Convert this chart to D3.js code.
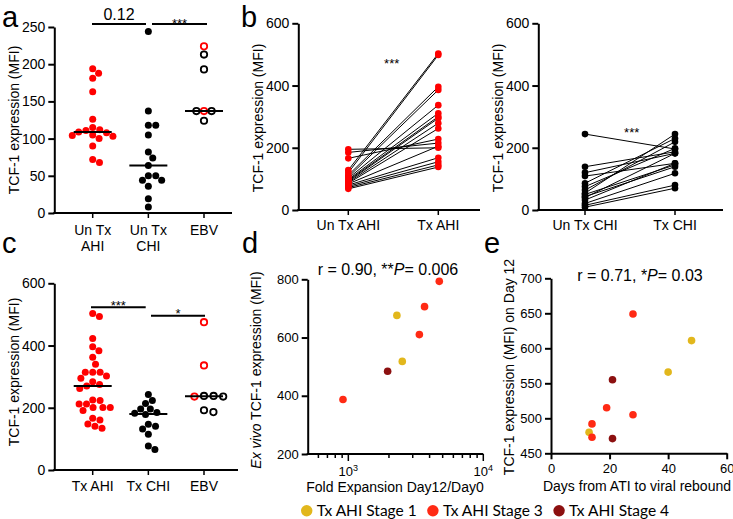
<!DOCTYPE html>
<html>
<head>
<meta charset="utf-8">
<script src="https://cdn.jsdelivr.net/npm/d3@7"></script>
<style>
body { margin: 0; background: #fff; }
text { font-family: "Liberation Sans", Arial, sans-serif; fill: #000; }
</style>
</head>
<body>
<svg id="fig" width="733" height="519"></svg>
<script>
// ---- data ----
// panel a
var catsA = ["Un Tx AHI", "Un Tx CHI", "EBV"];
var labelsA = [["Un Tx", "AHI"], ["Un Tx", "CHI"], ["EBV"]];
var unTxAHI = [194, 188, 181, 163, 126, 115, 112, 111, 109, 108, 105, 104, 103, 100, 90, 72, 68];
var unTxCHI = [244, 137, 118, 118, 105, 82, 74, 64, 50, 50, 44, 44, 36, 19, 8];
var ebvA_red = [224, 137];
var ebvA_black = [213, 193, 137, 137, 124];

// panel b (paired)
var catsB1 = ["Un Tx AHI", "Tx AHI"];
var ahiUnTx = [195, 185, 166, 128, 120, 112, 106, 102, 98, 95, 92, 89, 86, 84, 80, 76, 72, 68];
var ahiTx   = [200, 215, 228, 503, 498, 396, 386, 337, 311, 300, 295, 279, 262, 205, 168, 155, 145, 138];
var catsB2 = ["Un Tx CHI", "Tx CHI"];
var chiUnTx = [244, 139, 120, 109, 86, 75, 64, 54, 50, 43, 40, 32, 21, 15, 9];
var chiTx   = [196, 187, 182, 150, 230, 198, 219, 244, 145, 139, 182, 150, 118, 80, 70];

// panel c
var catsC = ["Tx AHI", "Tx CHI", "EBV"];
var txAHI = [503, 493, 423, 396, 383, 362, 340, 314, 314, 314, 302, 295, 284, 275, 270, 262, 225, 223, 212, 212, 201, 201, 201, 191, 166, 161, 148, 141, 134];
var txCHI = [243, 223, 214, 196, 196, 185, 182, 178, 147, 141, 132, 115, 77, 66];
var ebvC_red = [475, 336, 236];
var ebvC_black = [238, 236, 238, 186, 192];

// panel d
var foldExp   = [4720, 3670, 2290, 3360, 2510, 1955, 913];
var exVivoTCF = [793, 706, 676, 610, 518, 484, 387];
var stageD    = [3, 3, 1, 3, 1, 4, 3];

// panel e
var daysRebound = [28, 48, 40, 21, 19, 28, 14, 13, 14, 21];
var tcfDay12    = [649, 611, 566, 555, 515, 505, 492, 480, 473, 471];
var stageE      = [3, 1, 1, 4, 3, 3, 3, 1, 3, 4];

var stageNames = ["Tx AHI Stage 1", "Tx AHI Stage 3", "Tx AHI Stage 4"];
var stageKeys = [1, 3, 4];
var stageColor = d3.scaleOrdinal().domain(stageKeys).range(["#e2b71c", "#ff2a14", "#8c1010"]);

var svg = d3.select("#fig");
var RED = "#ff0000";

function panelLetter(t, x, y) {
    svg.append("text").attr("x", x).attr("y", y)
        .style("font-size", "29px").text(t);
}

function yAxis(scale, x, ticks, fs) {
    var g = svg.append("g")
        .attr("transform", "translate(" + x + ",0)")
        .call(d3.axisLeft(scale).tickValues(ticks).tickSize(6).tickSizeOuter(0).tickPadding(3));
    g.selectAll("path,line").attr("stroke", "#000").attr("stroke-width", 2);
    g.selectAll("text").style("font-family", "Liberation Sans, Arial, sans-serif")
        .style("font-size", fs + "px").attr("fill", "#000");
    return g;
}

function yTitle(t, x, y, fs) {
    return svg.append("text")
        .attr("transform", "translate(" + x + "," + y + ") rotate(-90)")
        .style("text-anchor", "middle").style("font-size", fs + "px").text(t);
}

// category axis: line from x0 to x1, small ticks at the categories
function catAxis(xScale, x0, x1, y, lines, lineY) {
    svg.append("line").attr("x1", x0 - 1).attr("x2", x1).attr("y1", y).attr("y2", y)
        .attr("stroke", "#000").attr("stroke-width", 2);
    xScale.domain().forEach(function (c, i) {
        var cx = xScale(c);
        svg.append("line").attr("x1", cx).attr("x2", cx).attr("y1", y).attr("y2", y + 5)
            .attr("stroke", "#000").attr("stroke-width", 1.5);
        var t = svg.append("text").attr("x", cx).attr("y", lineY)
            .style("text-anchor", "middle").style("font-size", "14px");
        lines[i].forEach(function (s, k) {
            t.append("tspan").attr("x", cx).attr("dy", k === 0 ? 0 : 16).text(s);
        });
    });
}

// simple beeswarm: each point goes as close to the centre as it can
function swarm(items, y, cx, r) {
    var d = 2 * r + 0.4;
    var pts = items.map(function (it, i) { return { v: it.v, open: it.open, color: it.color, y: y(it.v), i: i }; });
    pts.sort(function (a, b) { return a.y - b.y || a.i - b.i; });
    var placed = [];
    pts.forEach(function (p) {
        var near = placed.filter(function (q) { return Math.abs(q.y - p.y) < d; });
        var cands = [0];
        near.forEach(function (q) {
            var dx = Math.sqrt(d * d - (q.y - p.y) * (q.y - p.y));
            cands.push(q.dx + dx, q.dx - dx);
        });
        cands.sort(function (a, b) { return Math.abs(a) - Math.abs(b); });
        p.dx = cands.find(function (c) {
            return near.every(function (q) { return (q.dx - c) * (q.dx - c) + (q.y - p.y) * (q.y - p.y) >= d * d - 0.01; });
        });
        placed.push(p);
    });
    pts.forEach(function (p) { p.x = cx + p.dx; });
    return pts;
}

function drawDots(pts) {
    pts.forEach(function (p) {
        if (p.open) {
            svg.append("circle").attr("cx", p.x).attr("cy", p.y).attr("r", 3.2)
                .attr("fill", "#fff").attr("stroke", p.color).attr("stroke-width", 1.8);
        } else {
            svg.append("circle").attr("cx", p.x).attr("cy", p.y).attr("r", 3.5)
                .attr("fill", p.color);
        }
    });
}

function medianLine(vals, cx, y) {
    var m = d3.median(vals);
    svg.append("line").attr("x1", cx - 19).attr("x2", cx + 19)
        .attr("y1", y(m)).attr("y2", y(m))
        .attr("stroke", "#000").attr("stroke-width", 2);
}

function sigBar(x1, x2, y, label, ty, fs) {
    svg.append("line").attr("x1", x1).attr("x2", x2).attr("y1", y).attr("y2", y)
        .attr("stroke", "#000").attr("stroke-width", 2);
    svg.append("text").attr("x", (x1 + x2) / 2).attr("y", ty)
        .style("text-anchor", "middle").style("font-size", fs + "px").text(label);
}

function toItems(vals, color, open) {
    return vals.map(function (v) { return { v: v, color: color, open: open }; });
}

// ================= panel a =================
panelLetter("a", 2, 26.5);
var yA = d3.scaleLinear().domain([0, 250]).range([213, 27]);
var xA = d3.scalePoint().domain(catsA).range([92.7, 204]);
yAxis(yA, 54.3, [0, 50, 100, 150, 200, 250], 14);
yTitle("TCF-1 expression (MFI)", 19, 120, 14);
catAxis(xA, 54.3, 232, 213, labelsA, 235);
drawDots(swarm(toItems(unTxAHI, RED, false), yA, xA("Un Tx AHI"), 3.5));
drawDots(swarm(toItems(unTxCHI, "#000", false), yA, xA("Un Tx CHI"), 3.5));
drawDots(swarm(toItems(ebvA_red, RED, true).concat(toItems(ebvA_black, "#000", true)), yA, xA("EBV"), 3.6));
medianLine(unTxAHI, xA("Un Tx AHI"), yA);
medianLine(unTxCHI, xA("Un Tx CHI"), yA);
medianLine(ebvA_red.concat(ebvA_black), xA("EBV"), yA);
sigBar(92, 146, 24, "0.12", 20, 16);
sigBar(152, 207, 24, "***", 28, 13);

// ================= panel b =================
panelLetter("b", 241, 26.5);
function pairedPanel(cats, before, after, color, xr, axisX, axisEnd, y, title, titleX, starX, starY) {
    var x = d3.scalePoint().domain(cats).range(xr);
    yAxis(y, axisX, [0, 200, 400, 600], 14);
    yTitle(title, titleX, 118, 14);
    catAxis(x, axisX, axisEnd, 210, cats.map(function (c) { return [c]; }), 230);
    before.forEach(function (v, i) {
        svg.append("line")
            .attr("x1", x(cats[0])).attr("y1", y(v))
            .attr("x2", x(cats[1])).attr("y2", y(after[i]))
            .attr("stroke", "#000").attr("stroke-width", 1);
    });
    before.forEach(function (v) {
        svg.append("circle").attr("cx", x(cats[0])).attr("cy", y(v)).attr("r", 3.3).attr("fill", color);
    });
    after.forEach(function (v) {
        svg.append("circle").attr("cx", x(cats[1])).attr("cy", y(v)).attr("r", 3.3).attr("fill", color);
    });
    svg.append("text").attr("x", starX).attr("y", starY)
        .style("text-anchor", "middle").style("font-size", "13px").text("***");
}
var yB = d3.scaleLinear().domain([0, 600]).range([210, 23.3]);
pairedPanel(catsB1, ahiUnTx, ahiTx, RED, [348.3, 438.3], 298.3, 480, yB,
    "TCF-1 expression (MFI)", 263, 391.7, 68);
pairedPanel(catsB2, chiUnTx, chiTx, "#000", [585, 675], 538.3, 723, yB,
    "TCF-1 expression (MFI)", 503, 631.7, 137);

// ================= panel c =================
panelLetter("c", 2, 253);
var yC = d3.scaleLinear().domain([0, 600]).range([470, 283.3]);
var xC = d3.scalePoint().domain(catsC).range([92.7, 204]);
yAxis(yC, 54.3, [0, 200, 400, 600], 14);
yTitle("TCF-1 expression (MFI)", 19, 372, 14);
catAxis(xC, 54.3, 238, 470, catsC.map(function (c) { return [c]; }), 491);
drawDots(swarm(toItems(txAHI, RED, false), yC, xC("Tx AHI"), 3.5));
drawDots(swarm(toItems(txCHI, "#000", false), yC, xC("Tx CHI"), 3.5));
drawDots(swarm(toItems(ebvC_black.slice(0, 1), "#000", true)
    .concat(toItems(ebvC_red, RED, true))
    .concat(toItems(ebvC_black.slice(1), "#000", true)), yC, xC("EBV"), 4.6));
medianLine(txAHI, xC("Tx AHI"), yC);
medianLine(txCHI, xC("Tx CHI"), yC);
medianLine(ebvC_red.concat(ebvC_black), xC("EBV"), yC);
sigBar(91, 145.7, 307.3, "***", 310, 13);
sigBar(151, 205, 315.7, "*", 318, 13);

// ================= panel d =================
panelLetter("d", 242, 253);
var xD = d3.scaleLog().domain([500, 10000]).range([307.7, 483.3]);
var yD = d3.scaleLinear().domain([200, 800]).range([454, 279.3]);
yAxis(yD, 307.7, [200, 400, 600, 800], 13);
var dTitle = svg.append("text")
    .attr("transform", "translate(261,370) rotate(-90)")
    .style("text-anchor", "middle").style("font-size", "14px");
dTitle.append("tspan").style("font-style", "italic").text("Ex vivo");
dTitle.append("tspan").text(" TCF-1 expression (MFI)");
// log axis with minor ticks
svg.append("line").attr("x1", xD.range()[0] - 1).attr("x2", xD.range()[1]).attr("y1", 454).attr("y2", 454)
    .attr("stroke", "#000").attr("stroke-width", 2);
var logTicks = [600, 700, 800, 900, 1000, 2000, 3000, 4000, 5000, 6000, 7000, 8000, 9000, 10000];
logTicks.forEach(function (t) {
    var major = (t === 1000 || t === 10000);
    svg.append("line").attr("x1", xD(t)).attr("x2", xD(t)).attr("y1", 454).attr("y2", 454 + (major ? 7 : 4))
        .attr("stroke", "#000").attr("stroke-width", 1.5);
    if (major) {
        var tx = svg.append("text").attr("x", xD(t)).attr("y", 476)
            .style("text-anchor", "middle").style("font-size", "13px");
        tx.append("tspan").text("10");
        tx.append("tspan").attr("dy", -5).style("font-size", "9px").text(String(Math.round(Math.log10(t))));
    }
});
svg.append("text").attr("x", 395).attr("y", 492).style("text-anchor", "middle")
    .style("font-size", "14px").text("Fold Expansion Day12/Day0");
foldExp.forEach(function (v, i) {
    svg.append("circle").attr("cx", xD(v)).attr("cy", yD(exVivoTCF[i])).attr("r", 3.8)
        .attr("fill", stageColor(stageD[i]));
});
var dStat = svg.append("text").attr("x", 388).attr("y", 275)
    .style("text-anchor", "middle").style("font-size", "16px");
dStat.append("tspan").text("r = 0.90, **");
dStat.append("tspan").style("font-style", "italic").text("P");
dStat.append("tspan").text("= 0.006");

// ================= panel e =================
panelLetter("e", 484, 253);
var xE = d3.scaleLinear().domain([0, 60]).range([551, 726.7]);
var yE = d3.scaleLinear().domain([450, 700]).range([453.3, 278.3]);
yAxis(yE, 551, [450, 500, 550, 600, 650, 700], 13);
yTitle("TCF-1 expression (MFI) on Day 12", 514, 367, 14);
var gxE = svg.append("g").attr("transform", "translate(0,453.3)")
    .call(d3.axisBottom(xE).tickValues([0, 20, 40, 60]).tickSize(6).tickSizeOuter(0).tickPadding(4));
gxE.selectAll("path,line").attr("stroke", "#000").attr("stroke-width", 2);
gxE.selectAll("text").style("font-family", "Liberation Sans, Arial, sans-serif")
    .style("font-size", "13px").attr("fill", "#000");
svg.append("text").attr("x", 637).attr("y", 491).style("text-anchor", "middle")
    .style("font-size", "14px").text("Days from ATI to viral rebound");
daysRebound.forEach(function (v, i) {
    svg.append("circle").attr("cx", xE(v)).attr("cy", yE(tcfDay12[i])).attr("r", 3.8)
        .attr("fill", stageColor(stageE[i]));
});
var eStat = svg.append("text").attr("x", 640).attr("y", 281)
    .style("text-anchor", "middle").style("font-size", "16px");
eStat.append("tspan").text("r = 0.71, *");
eStat.append("tspan").style("font-style", "italic").text("P");
eStat.append("tspan").text("= 0.03");

// ================= legend =================
var lx = 301;
stageKeys.forEach(function (k, i) {
    svg.append("circle").attr("cx", lx + 5.7).attr("cy", 510.7).attr("r", 5.7).attr("fill", stageColor(k));
    var t = svg.append("text").attr("x", lx + 15.7).attr("y", 516)
        .style("font-family", "Lato, 'Open Sans', sans-serif").style("font-size", "15.5px")
        .text(stageNames[i]);
    lx = lx + 15.7 + t.node().getComputedTextLength() + 10.5;
});
</script>
</body>
</html>
